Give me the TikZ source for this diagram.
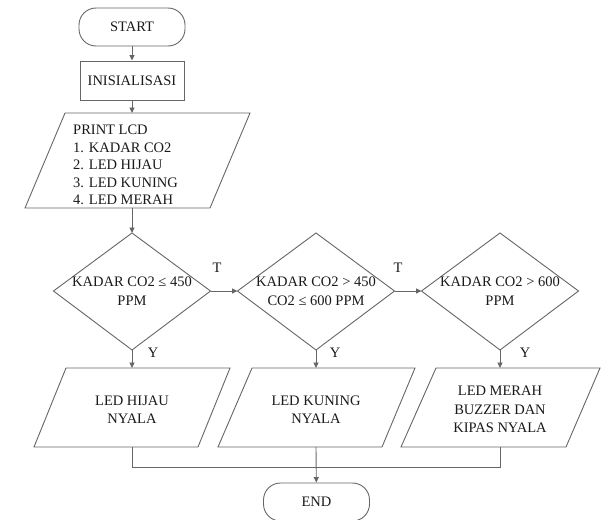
\documentclass[tikz,border=0pt]{standalone}
\usepackage{fontspec}
\setmainfont{Liberation Serif}
\usetikzlibrary{arrows.meta}
\definecolor{linegray}{HTML}{666666}
\definecolor{txtgray}{HTML}{1A1A1A}
\begin{document}
\begin{tikzpicture}[x=1pt,y=-1pt,
  shp/.style={draw=linegray, line width=0.9pt},
  con/.style={draw=linegray, line width=0.9pt},
  arr/.style={con, -{Triangle[length=5.5pt,width=5pt]}},
  txt/.style={font=\fontsize{14.5}{18.5}\selectfont, align=center, text=txtgray, inner sep=0pt},
  lbl/.style={font=\fontsize{14.5}{18}\selectfont, text=txtgray, inner sep=0pt},
  termbox/.style={shp, rounded corners=17pt, minimum width=106pt, minimum height=38pt, inner sep=0pt, font=\fontsize{14.5}{18.5}\selectfont, text=txtgray},
  procbox/.style={shp, minimum width=104pt, minimum height=39pt, inner sep=0pt, font=\fontsize{14.5}{18.5}\selectfont, text=txtgray}]
\useasboundingbox (0,0) rectangle (604,519);
\fill[white] (0,0) rectangle (604,519);

% terminals and process
\node[termbox] (start) at (132,27) {START};
\node[procbox] (init) at (132,80.5) {INISIALISASI};
\node[termbox] (end) at (316.5,502) {END};

% print LCD parallelogram
\draw[shp] (65,113) -- (250,113) -- (210,208) -- (25,208) -- cycle;
\coordinate (lcdT) at (132,113);
\coordinate (lcdB) at (132,208);
\node[font=\fontsize{14.5}{17.6}\selectfont, text=txtgray, inner sep=0pt, align=left, anchor=west] (lcd) at (73,165) {PRINT LCD\\1. KADAR CO2\\2. LED HIJAU\\3. LED KUNING\\4. LED MERAH};

% decisions
\draw[shp] (132,233) -- (210.5,291) -- (132,350) -- (53.5,291) -- cycle;
\draw[shp] (316,233) -- (394.5,291) -- (316,350) -- (237.5,291) -- cycle;
\draw[shp] (500,233) -- (578.5,291) -- (500,350) -- (421.5,291) -- cycle;
\coordinate (d1T) at (132,233); \coordinate (d1R) at (210.5,291); \coordinate (d1B) at (132,350);
\coordinate (d2L) at (237.5,291); \coordinate (d2R) at (394.5,291); \coordinate (d2B) at (316,350);
\coordinate (d3L) at (421.5,291); \coordinate (d3B) at (500,350);
\node[txt] (d1) at (132,291) {KADAR CO2 ≤ 450\\PPM};
\node[txt] (d2) at (316,291) {KADAR CO2 > 450\\CO2 ≤ 600 PPM};
\node[txt] (d3) at (500,291) {KADAR CO2 > 600\\PPM};

% outputs
\draw[shp] (66,368) -- (230,368) -- (198,447) -- (34,447) -- cycle;
\draw[shp] (252,368) -- (415,368) -- (382,447) -- (218,447) -- cycle;
\draw[shp] (436,368) -- (600,368) -- (566,447) -- (401,447) -- cycle;
\coordinate (o1T) at (132,368); \coordinate (o1B) at (132,447);
\coordinate (o2T) at (316,368); \coordinate (o2B) at (316,447);
\coordinate (o3T) at (500,368); \coordinate (o3B) at (500,447);
\node[txt] (o1) at (132,409.5) {LED HIJAU\\NYALA};
\node[txt] (o2) at (316,409.5) {LED KUNING\\NYALA};
\node[txt] (o3) at (500,409.5) {LED MERAH\\BUZZER DAN\\KIPAS NYALA};

% connectors
\draw[arr] (start) -- (init);
\draw[arr] (init) -- (lcdT);
\draw[arr] (lcdB) -- (d1T);
\draw[arr] (d1R) -- (d2L);
\draw[arr] (d2R) -- (d3L);
\draw[arr] (d1B) -- (o1T);
\draw[arr] (d2B) -- (o2T);
\draw[arr] (d3B) -- (o3T);
\coordinate (m1) at (132,467);
\coordinate (m3) at (500,467);
\draw[con] (o1B) -- (m1) -- (m3) -- (o3B);
\draw[arr] (o2B) -- (end);

% labels
\node[lbl] (t1) at (217,268) {T};
\node[lbl] (t2) at (398,268) {T};
\node[lbl] (y1) at (153,353) {Y};
\node[lbl] (y2) at (335,353) {Y};
\node[lbl] (y3) at (525,353) {Y};
\end{tikzpicture}
\end{document}
